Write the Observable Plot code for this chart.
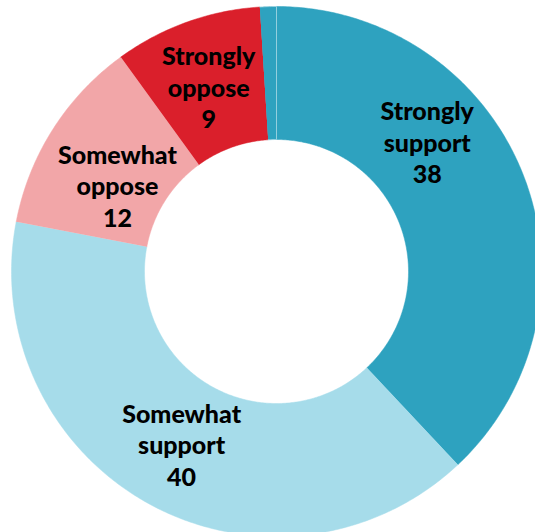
<!DOCTYPE html>
<html>
<head>
<meta charset="utf-8">
<script src="https://cdn.jsdelivr.net/npm/d3@7"></script>
<script src="https://cdn.jsdelivr.net/npm/@observablehq/plot@0.6"></script>
<style>
  html, body { margin: 0; padding: 0; background: #fff; }
  #chart { width: 535px; height: 532px; overflow: hidden; }
</style>
</head>
<body>
<div id="chart"></div>
<script>
// ---- data ----
const categories = ["Strongly support", "Somewhat support", "Somewhat oppose", "Strongly oppose", "Don't know"];
const values = [38, 40, 12, 9, 1];
const labelNames = ["Strongly\nsupport", "Somewhat\nsupport", "Somewhat\noppose", "Strongly\noppose", ""];
const colors = ["#2ea2bf", "#a6dcea", "#f2a6a8", "#da1f2b", "#2ea2bf"];

// ---- layout ----
const W = 535, H = 532;
const cx = 276, cy = 271;          // donut centre in pixels
const rOuter = 265, rInner = 132;
// position of each label within its slice (0 = start, 1 = end) and its distance from the centre
const labelFraction = [0.36, 0.5, 0.41, 0.49, 0.5];
const labelRadius = [199, 197, 181, 197, 197];

const pie = d3.pie().sort(null).value(d => d.value).startAngle(0).endAngle(2 * Math.PI);
const rows = categories.map((c, i) => ({cat: c, value: values[i], color: colors[i], name: labelNames[i], idx: i}));
const arcs = pie(rows);

const pts = [];
arcs.forEach(a => {
  const n = Math.max(4, Math.ceil((a.endAngle - a.startAngle) / 0.01));
  for (let k = 0; k <= n; k++) {
    const t = a.startAngle + (a.endAngle - a.startAngle) * k / n;
    pts.push({cat: a.data.cat, color: a.data.color, x: rOuter * Math.sin(t), y: rOuter * Math.cos(t)});
  }
  for (let k = n; k >= 0; k--) {
    const t = a.startAngle + (a.endAngle - a.startAngle) * k / n;
    pts.push({cat: a.data.cat, color: a.data.color, x: rInner * Math.sin(t), y: rInner * Math.cos(t)});
  }
});

const labels = arcs.filter(a => a.data.name).map(a => {
  const i = a.data.idx;
  const t = a.startAngle + (a.endAngle - a.startAngle) * labelFraction[i];
  return {text: a.data.name + "\n" + a.data.value, x: labelRadius[i] * Math.sin(t), y: labelRadius[i] * Math.cos(t)};
});

const small = pts.filter(p => p.cat === "Don't know");

const chart = Plot.plot({
  width: W,
  height: H,
  margin: 0,
  x: {domain: [-cx, W - cx], axis: null},
  y: {domain: [-(H - cy), cy], axis: null},
  color: {type: "identity"},
  marks: [
    Plot.line(pts, {x: "x", y: "y", z: "cat", fill: "color", stroke: "color", strokeWidth: 0.5, curve: "linear"}),
    Plot.line(small, {x: "x", y: "y", z: "cat", fill: "color", stroke: "white", strokeOpacity: 0.45, strokeWidth: 1, curve: "linear"}),
    Plot.text(labels, {x: "x", y: "y", text: "text", fontSize: 25, fontWeight: 900, fontFamily: "Lato", lineHeight: 1.26, fill: "#000"})
  ]
});
document.getElementById("chart").appendChild(chart);
</script>
</body>
</html>
